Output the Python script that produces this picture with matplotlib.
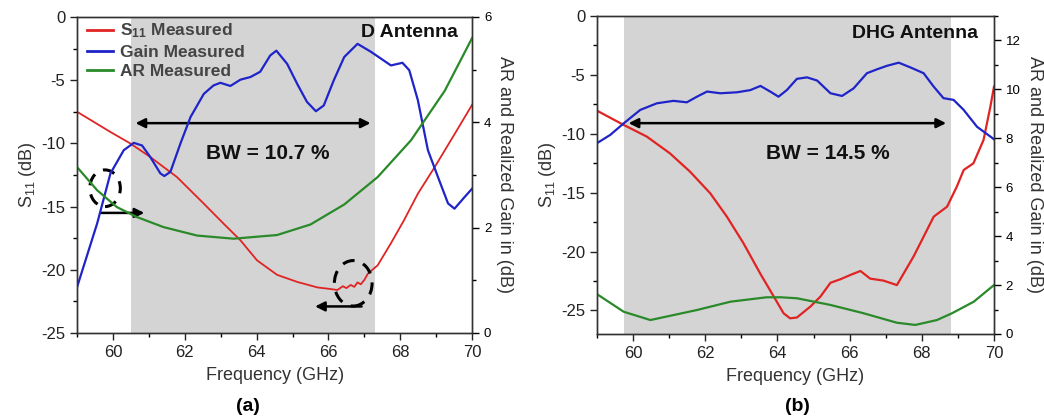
import matplotlib
matplotlib.use("Agg")
import matplotlib.pyplot as plt
from matplotlib.patches import Ellipse
from matplotlib.ticker import MultipleLocator
from matplotlib.lines import Line2D

plt.rcParams['font.family'] = ['Liberation Sans', 'DejaVu Sans']
plt.rcParams['axes.unicode_minus'] = False
plt.rcParams['mathtext.fontset'] = 'custom'
plt.rcParams['mathtext.rm'] = 'Liberation Sans'
plt.rcParams['mathtext.bf'] = 'Liberation Sans:bold'
plt.rcParams['mathtext.it'] = 'Liberation Sans:italic'

# ---------------- Panel (a) data: D Antenna ----------------
a_s11_f = [59.0, 59.93, 60.48, 61.04, 61.78, 62.53, 63.08, 63.55, 64.01, 64.57, 65.13, 65.7,
           66.0, 66.25, 66.4, 66.5, 66.62, 66.72, 66.81, 66.9, 67.0, 67.1, 67.37, 67.74, 68.1,
           68.49, 68.96, 69.52, 70.0]
a_s11 = [-7.5, -9.1, -10.0, -11.08, -12.66, -14.77, -16.35, -17.67, -19.25, -20.4, -20.96, -21.4,
         -21.5, -21.6, -21.3, -21.45, -21.2, -21.35, -21.0, -21.15, -20.8, -20.3, -19.65, -17.9, -16.1,
         -13.98, -11.87, -9.23, -6.95]

a_gain_f = [59.0, 59.56, 59.93, 60.3, 60.58, 60.81, 61.04, 61.32, 61.43, 61.6, 61.88, 62.16,
            62.53, 62.8, 62.99, 63.27, 63.55, 63.83, 64.1, 64.38, 64.55, 64.85, 65.13, 65.4,
            65.65, 65.87, 66.15, 66.44, 66.81, 67.18, 67.46, 67.74, 68.06, 68.25, 68.49, 68.77,
            69.05, 69.33, 69.51, 69.79, 70.0]
a_gain = [0.87, 2.08, 3.03, 3.47, 3.61, 3.56, 3.34, 3.03, 2.98, 3.06, 3.6, 4.1,
          4.54, 4.7, 4.75, 4.69, 4.81, 4.86, 4.96, 5.27, 5.36, 5.11, 4.73, 4.39,
          4.21, 4.32, 4.8, 5.24, 5.49, 5.34, 5.21, 5.08, 5.13, 4.99, 4.42, 3.47,
          2.96, 2.46, 2.36, 2.58, 2.74]

a_ar_f = [59.0, 59.56, 60.11, 60.67, 61.41, 62.34, 63.36, 64.57, 65.5, 66.44, 67.37, 68.3,
          69.24, 70.0]
a_ar = [3.15, 2.71, 2.39, 2.2, 2.01, 1.85, 1.79, 1.86, 2.06, 2.44, 2.96, 3.66,
        4.6, 5.6]

# ---------------- Panel (b) data: DHG Antenna ----------------
b_s11_f = [59.0, 59.74, 60.38, 61.02, 61.58, 62.14, 62.6, 63.06, 63.52, 63.9, 64.17, 64.35,
           64.54, 64.91, 65.19, 65.47, 65.74, 66.02, 66.3, 66.57, 66.94, 67.31, 67.5, 67.77,
           68.05, 68.33, 68.7, 68.97, 69.16, 69.43, 69.71, 69.9, 70.0]
b_s11 = [-8.04, -9.25, -10.24, -11.66, -13.22, -15.06, -17.04, -19.3, -21.85, -23.83, -25.24, -25.67,
         -25.6, -24.68, -23.83, -22.65, -22.36, -21.99, -21.65, -22.3, -22.47, -22.85, -21.85, -20.43,
         -18.74, -17.04, -16.19, -14.49, -13.08, -12.51, -10.53, -7.7, -6.0]

b_gain_f = [59.0, 59.37, 59.74, 60.2, 60.66, 61.12, 61.49, 61.77, 62.05, 62.42, 62.88, 63.25,
            63.53, 63.8, 64.03, 64.26, 64.54, 64.82, 65.1, 65.47, 65.79, 66.11, 66.48, 66.76,
            67.03, 67.36, 67.68, 68.05, 68.33, 68.6, 68.88, 69.16, 69.53, 69.9, 70.0]
b_gain = [7.8, 8.14, 8.61, 9.16, 9.43, 9.53, 9.47, 9.7, 9.91, 9.84, 9.88, 9.97,
          10.14, 9.91, 9.7, 9.97, 10.43, 10.49, 10.36, 9.84, 9.73, 10.04, 10.66, 10.82,
          10.96, 11.09, 10.9, 10.66, 10.11, 9.64, 9.57, 9.16, 8.47, 8.07, 7.96]

b_ar_f = [59.0, 59.74, 60.48, 61.77, 62.7, 63.7, 64.1, 64.54, 65.46, 66.38, 67.31, 67.82,
          68.42, 68.84, 69.44, 70.0]
b_ar = [1.63, 0.91, 0.57, 0.98, 1.32, 1.5, 1.5, 1.46, 1.19, 0.85, 0.46, 0.37,
        0.57, 0.85, 1.32, 2.0]

legend_labels = [r'$\mathbf{S}_{\mathbf{11}}$ Measured', 'Gain Measured', 'AR Measured']
RED, BLUE, GREEN = '#e02424', '#1f24c8', '#2a8a2a'
SHADE = '#d4d4d4'

fig = plt.figure(figsize=(10.44, 4.19), dpi=100)


def setup(ax, ax2, ylim_l, ylim_r, rmajor):
    ax.set_xlim(59, 70)
    ax.set_ylim(*ylim_l)
    ax2.set_ylim(*ylim_r)
    ax.xaxis.set_major_locator(MultipleLocator(2))
    ax.xaxis.set_minor_locator(MultipleLocator(1))
    ax.yaxis.set_major_locator(MultipleLocator(5))
    ax.yaxis.set_minor_locator(MultipleLocator(2.5))
    ax2.yaxis.set_major_locator(MultipleLocator(rmajor))
    ax2.yaxis.set_minor_locator(MultipleLocator(1))
    ax.tick_params(axis='both', which='major', labelsize=12, length=5, width=1, colors='#222222')
    ax.tick_params(axis='both', which='minor', length=3, width=1)
    ax2.tick_params(axis='y', which='major', labelsize=9.5, length=5, width=1)
    ax2.tick_params(axis='y', which='minor', length=3, width=1)
    ax.set_xlabel('Frequency (GHz)', fontsize=13, color='#333333', labelpad=5)
    ax.set_ylabel('S$_{11}$ (dB)', fontsize=13, color='#333333', labelpad=2)
    ax2.set_ylabel('AR and Realized Gain in (dB)', fontsize=13, color='#333333',
                   rotation=-90, labelpad=16)
    for a in (ax, ax2):
        for s in a.spines.values():
            s.set_color('#333333')
            s.set_linewidth(1)


# ---------------- Panel (a) ----------------
ax = fig.add_axes([0.0738, 0.2053, 0.3784, 0.7542])
ax2 = ax.twinx()
ax.axvspan(60.5, 67.3, color=SHADE, zorder=0, lw=0)
ax.plot(a_s11_f, a_s11, color=RED, lw=1.3)
ax2.plot(a_gain_f, a_gain, color=BLUE, lw=1.6)
ax2.plot(a_ar_f, a_ar, color=GREEN, lw=1.6)
setup(ax, ax2, (-25, 0), (0, 6), 2)
ax.annotate('', xy=(60.55, -8.4), xytext=(67.25, -8.4),
            arrowprops=dict(arrowstyle='<|-|>', color='black', lw=1.8, mutation_scale=14))
ax.text(64.3, -10.8, 'BW = 10.7 %', fontsize=15, fontweight='bold', ha='center', va='center',
        color='#111111')
ax.text(69.6, -1.2, 'D Antenna', fontsize=14, fontweight='bold', ha='right', va='center',
        color='#111111')
ax.add_patch(Ellipse((59.78, -13.55), 0.85, 2.9, fill=False, ls=(0, (4, 3)), lw=2.2,
                     color='black', zorder=5))
ax.annotate('', xy=(60.95, -15.5), xytext=(59.6, -15.5),
            arrowprops=dict(arrowstyle='-|>', color='black', lw=1.8, mutation_scale=14))
ax.add_patch(Ellipse((66.69, -21.07), 1.05, 3.6, fill=False, ls=(0, (4, 3)), lw=2.2,
                     color='black', zorder=5))
ax.annotate('', xy=(65.55, -22.9), xytext=(67.0, -22.9),
            arrowprops=dict(arrowstyle='-|>', color='black', lw=1.8, mutation_scale=14))
handles = [Line2D([], [], color=c, lw=2) for c in (RED, BLUE, GREEN)]
leg = ax.legend(handles, legend_labels, loc='upper left', frameon=False, fontsize=12.5,
                handlelength=1.5, handletextpad=0.45, borderaxespad=0.15, labelspacing=0.25,
                bbox_to_anchor=(0.0, 1.015))
for t in leg.get_texts():
    t.set_fontweight('bold')
    t.set_color('#444444')
fig.text(0.2375, 0.03, '(a)', fontsize=14, fontweight='bold', ha='center', va='center')

# ---------------- Panel (b) ----------------
bx = fig.add_axes([0.5718, 0.2029, 0.3803, 0.759])
bx2 = bx.twinx()
bx.axvspan(59.75, 68.8, color=SHADE, zorder=0, lw=0)
bx.plot(b_s11_f, b_s11, color=RED, lw=1.6)
bx2.plot(b_gain_f, b_gain, color=BLUE, lw=1.6)
bx2.plot(b_ar_f, b_ar, color=GREEN, lw=1.6)
setup(bx, bx2, (-27, 0), (0, 13), 2)
bx.annotate('', xy=(59.8, -9.1), xytext=(68.75, -9.1),
            arrowprops=dict(arrowstyle='<|-|>', color='black', lw=1.8, mutation_scale=14))
bx.text(65.4, -11.7, 'BW = 14.5 %', fontsize=15, fontweight='bold', ha='center', va='center',
        color='#111111')
bx.text(69.55, -1.5, 'DHG Antenna', fontsize=14, fontweight='bold', ha='right', va='center',
        color='#111111')
fig.text(0.764, 0.03, '(b)', fontsize=14, fontweight='bold', ha='center', va='center')

fig.savefig('out.png', dpi=100)
